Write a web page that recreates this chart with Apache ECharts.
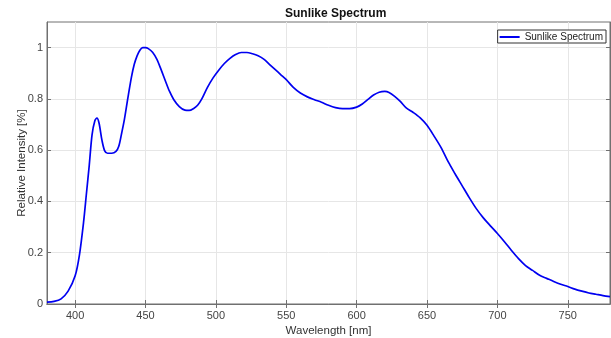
<!DOCTYPE html>
<html>
<head>
<meta charset="utf-8">
<script src="https://cdn.jsdelivr.net/npm/echarts@6/dist/echarts.min.js"></script>
<style>
  html, body { margin: 0; padding: 0; background: #fff; }
  #chart { width: 611px; height: 338px; }
</style>
</head>
<body>
<div id="chart"></div>
<script>
// wavelength [nm] and relative intensity
const wavelengths = [
  380, 385, 390, 395, 400, 403, 406, 408, 410, 412, 414, 415.5, 417, 419, 421, 423, 426, 429,
  431, 433, 435, 437.5, 440, 442, 444, 446, 448, 450, 452, 455, 458, 461, 464, 467, 470, 474,
  478, 481, 484, 487, 490, 494, 498, 502, 506, 510, 514, 518, 522, 526, 530, 534, 538, 542,
  546, 550, 555, 560, 565, 570, 575, 580, 585, 590, 595, 600, 604, 608, 612, 616, 620, 623,
  627, 631, 635, 640, 645, 650, 655, 660, 665, 670, 675, 680, 685, 690, 695, 700, 705, 710,
  715, 720, 725, 730, 735, 740, 745, 750, 755, 760, 765, 770, 775, 780,
];
const intensity = [
  0.007, 0.010, 0.020, 0.050, 0.110, 0.190, 0.320, 0.430, 0.540, 0.660, 0.715, 0.725, 0.705, 0.640, 0.597, 0.588, 0.588, 0.595,
  0.615, 0.665, 0.720, 0.805, 0.885, 0.935, 0.968, 0.990, 1.000, 1.000, 0.996, 0.982, 0.955, 0.915, 0.872, 0.830, 0.798, 0.770,
  0.756, 0.755, 0.762, 0.775, 0.800, 0.845, 0.882, 0.912, 0.938, 0.958, 0.973, 0.981, 0.981, 0.976, 0.968, 0.955, 0.935, 0.915,
  0.895, 0.875, 0.845, 0.823, 0.808, 0.797, 0.787, 0.775, 0.766, 0.762, 0.762, 0.768, 0.780, 0.798, 0.815, 0.826, 0.829, 0.825,
  0.810, 0.790, 0.766, 0.748, 0.727, 0.697, 0.655, 0.610, 0.555, 0.507, 0.461, 0.415, 0.372, 0.336, 0.305, 0.275, 0.243, 0.209,
  0.177, 0.150, 0.131, 0.112, 0.100, 0.088, 0.077, 0.068, 0.058, 0.050, 0.043, 0.038, 0.033, 0.029,
];
const xTicks = [400, 450, 500, 550, 600, 650, 700, 750];
const yTicks = [0, 0.2, 0.4, 0.6, 0.8, 1];

const seriesName = 'Sunlike Spectrum';
const font = '"Liberation Sans", Arial, Helvetica, sans-serif';
const axisColor = '#707070';
const gridColor = '#e6e6e6';

const xRange = { min: 380, max: 780 };
const yRange = { min: 0, max: 1.1 };

const chart = echarts.init(document.getElementById('chart'));
chart.setOption({
  animation: false,
  textStyle: { fontFamily: font },
  title: {
    text: 'Sunlike Spectrum',
    left: 280,
    top: 3,
    textStyle: { fontSize: 12, fontWeight: 'bold', color: '#111', fontFamily: font },
  },
  legend: {
    data: [seriesName],
    right: 5,
    top: 30,
    icon: 'rect',
    itemWidth: 20,
    itemHeight: 2,
    padding: [2, 3, 1, 2],
    borderColor: '#333',
    borderWidth: 1,
    borderRadius: 0,
    backgroundColor: '#fff',
    textStyle: { fontSize: 10, color: '#222', fontFamily: font },
  },
  grid: {
    left: 47, right: 1, top: 22, bottom: 34,
    outerBoundsMode: 'none',
    containLabel: false,
    show: true, borderColor: axisColor, borderWidth: 1,
  },
  xAxis: [
    {
      type: 'value',
      ...xRange,
      position: 'bottom',
      name: 'Wavelength [nm]',
      nameLocation: 'middle',
      nameGap: 21,
      nameMoveOverlap: false,
      nameTextStyle: { fontSize: 11.5, color: '#333' },
      axisLine: { lineStyle: { color: axisColor } },
      axisTick: { inside: true, length: 4, customValues: xTicks, lineStyle: { color: axisColor } },
      axisLabel: { fontSize: 11, color: '#444', margin: 6, customValues: xTicks },
      splitLine: { customValues: xTicks, lineStyle: { color: gridColor } },
    },
    {
      type: 'value',
      ...xRange,
      position: 'top',
      axisLine: { show: true, lineStyle: { color: axisColor } },
      axisTick: { show: true, inside: true, length: 4, customValues: xTicks, lineStyle: { color: axisColor } },
      axisLabel: { show: false },
      splitLine: { show: false },
    },
  ],
  yAxis: [
    {
      type: 'value',
      ...yRange,
      position: 'left',
      name: 'Relative Intensity [%]',
      nameLocation: 'middle',
      nameGap: 19,
      nameMoveOverlap: false,
      nameTextStyle: { fontSize: 11.5, color: '#333' },
      axisLine: { show: true, lineStyle: { color: axisColor } },
      axisTick: { show: true, inside: true, length: 4, customValues: yTicks, lineStyle: { color: axisColor } },
      axisLabel: { fontSize: 11, color: '#444', margin: 4, customValues: yTicks },
      splitLine: { customValues: yTicks, lineStyle: { color: gridColor } },
    },
    {
      type: 'value',
      ...yRange,
      position: 'right',
      axisLine: { show: true, lineStyle: { color: axisColor } },
      axisTick: { show: true, inside: true, length: 4, customValues: yTicks, lineStyle: { color: axisColor } },
      axisLabel: { show: false },
      splitLine: { show: false },
    },
  ],
  series: [
    {
      name: seriesName,
      type: 'line',
      data: wavelengths.map((w, i) => [w, intensity[i]]),
      smooth: 0.3,
      showSymbol: false,
      lineStyle: { color: '#0000f0', width: 1.7 },
      itemStyle: { color: '#0000f0' },
    },
  ],
});
</script>
</body>
</html>
